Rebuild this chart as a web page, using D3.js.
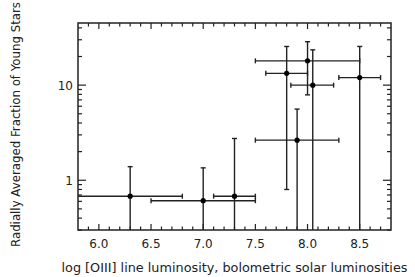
<!DOCTYPE html>
<html><head><meta charset="utf-8">
<script src="https://cdn.jsdelivr.net/npm/d3@7"></script>
<style>
html,body{margin:0;padding:0;background:#fff;}
svg{display:block;}
text{font-family:"DejaVu Sans",sans-serif;fill:#222;}
</style></head>
<body><div id="chart"></div>
<script>
// Data
const xVal = [6.3, 7.0, 7.3, 7.8, 8.0, 8.05, 7.9, 8.5];
const yVal = [0.68, 0.61, 0.68, 13.3, 18.0, 10.0, 2.64, 12.0];
const xLow = [5.6, 6.5, 7.1, 7.6, 7.5, 7.84, 7.5, 8.3];
const xHigh = [6.8, 7.5, 7.5, 8.0, 8.5, 8.25, 8.3, 8.7];
const yLow = [0.1, 0.1, 0.1, 0.8, 7.9, 0.1, 0.1, 0.1];
const yHigh = [1.39, 1.35, 2.75, 25.5, 28.6, 23.5, 5.6, 25.5];
const xTickLabels = ["6.0", "6.5", "7.0", "7.5", "8.0", "8.5"];
const yTickLabels = ["1", "10"];
const xDomain = [5.8, 8.8];
const yDomain = [0.3, 45];
const xTitle = "log [OIII] line luminosity, bolometric solar luminosities";
const yTitle = "Radially Averaged Fraction of Young Stars";

const W = 415, H = 277;
const L = 78, R = 391, T = 23, B = 230;
const svg = d3.select("#chart").append("svg").attr("width", W).attr("height", H);

const x = d3.scaleLinear().domain(xDomain).range([L, R]);
const y = d3.scaleLog().domain(yDomain).range([B, T]);

const points = xVal.map((v, i) => ({x: v, y: yVal[i], xl: xLow[i], xh: xHigh[i], yl: yLow[i], yh: yHigh[i]}));

// ticks
const xMinor = d3.range(59, 88).map(d => d / 10);
const xMajor = xTickLabels.map(Number);
const yMajor = yTickLabels.map(Number);
const yMinor = [];
[0.1, 1, 10].forEach(dec => { for (let k = 2; k <= 9; k++) { const v = dec * k; if (v >= yDomain[0] && v <= yDomain[1]) yMinor.push(v); } });

const tk = svg.append("g").attr("stroke", "#222").attr("stroke-width", 1.2);
xMinor.forEach(v => {
  const isMaj = xMajor.some(m => Math.abs(m - v) < 1e-6);
  const len = isMaj ? 6 : 3.5;
  tk.append("line").attr("x1", x(v)).attr("x2", x(v)).attr("y1", B).attr("y2", B - len);
  tk.append("line").attr("x1", x(v)).attr("x2", x(v)).attr("y1", T).attr("y2", T + len);
});
yMinor.forEach(v => {
  tk.append("line").attr("x1", L).attr("x2", L + 4).attr("y1", y(v)).attr("y2", y(v));
  tk.append("line").attr("x1", R).attr("x2", R - 4).attr("y1", y(v)).attr("y2", y(v));
});
yMajor.forEach(v => {
  tk.append("line").attr("x1", L).attr("x2", L + 8).attr("y1", y(v)).attr("y2", y(v));
  tk.append("line").attr("x1", R).attr("x2", R - 8).attr("y1", y(v)).attr("y2", y(v));
});

// tick labels
svg.append("g").selectAll("text").data(xTickLabels).join("text")
  .attr("x", d => x(+d)).attr("y", 248).attr("text-anchor", "middle")
  .attr("font-size", 12).text(d => d);
svg.append("g").selectAll("text").data(yTickLabels).join("text")
  .attr("x", 73).attr("y", d => y(+d) + 4.5).attr("text-anchor", "end")
  .attr("font-size", 12).text(d => d);

// titles
svg.append("text").attr("x", (L + R) / 2).attr("y", 272).attr("text-anchor", "middle")
  .attr("font-size", 11.5).attr("textLength", 346).attr("lengthAdjust", "spacingAndGlyphs").text(xTitle);
svg.append("text").attr("transform", `translate(20,${124.5}) rotate(-90)`).attr("text-anchor", "middle")
  .attr("font-size", 11.5).attr("textLength", 245).attr("lengthAdjust", "spacingAndGlyphs").text(yTitle);

// clip
svg.append("clipPath").attr("id", "clip").append("rect").attr("x", L).attr("y", T).attr("width", R - L).attr("height", B - T);
const g = svg.append("g").attr("clip-path", "url(#clip)").attr("stroke", "#222").attr("stroke-width", 1.4);
const cap = 2.5;
points.forEach(p => {
  g.append("line").attr("x1", x(p.xl)).attr("x2", x(p.xh)).attr("y1", y(p.y)).attr("y2", y(p.y));
  g.append("line").attr("x1", x(p.x)).attr("x2", x(p.x)).attr("y1", y(p.yl)).attr("y2", y(p.yh));
  [p.xl, p.xh].forEach(v => g.append("line").attr("x1", x(v)).attr("x2", x(v)).attr("y1", y(p.y) - cap).attr("y2", y(p.y) + cap));
  [p.yl, p.yh].forEach(v => g.append("line").attr("x1", x(p.x) - cap).attr("x2", x(p.x) + cap).attr("y1", y(v)).attr("y2", y(v)));
});
g.selectAll("circle").data(points).join("circle")
  .attr("cx", d => x(d.x)).attr("cy", d => y(d.y)).attr("r", 2.6).attr("fill", "#000").attr("stroke", "none");

// frame
svg.append("rect").attr("x", L).attr("y", T).attr("width", R - L).attr("height", B - T)
  .attr("fill", "none").attr("stroke", "#222").attr("stroke-width", 1.5);
</script></body></html>
